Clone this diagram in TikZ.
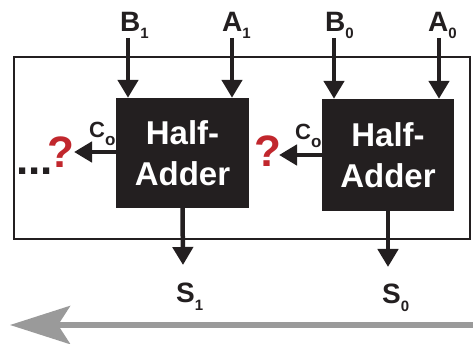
\documentclass[tikz,border=0pt]{standalone}
\usepackage{fontspec}
\setmainfont{Liberation Sans}
\usetikzlibrary{arrows.meta}
\definecolor{ink}{HTML}{231F20}
\definecolor{qred}{HTML}{C1272D}
\definecolor{flow}{HTML}{9A9A9A}
% signal name with a lowered subscript
\newcommand{\sig}[4]{\fontsize{#3}{#3}\selectfont\bfseries #1\raisebox{-#4}{\fontsize{15}{15}\selectfont #2}}
\begin{document}
\begin{tikzpicture}[x=1pt,y=-1pt,
  habox/.style={fill=ink,draw=none,text=white,font=\fontsize{33}{41}\selectfont\bfseries,
    align=center,inner sep=0pt,minimum width=133pt,minimum height=110pt},
  wire/.style={draw=ink,line width=4.5pt,-{Triangle[width=20pt,length=18pt]}},
  lbl/.style={inner sep=0pt,anchor=base west,text=ink},
  qmark/.style={inner sep=0pt,anchor=base west,text=qred,text height=32pt,text depth=0pt,
    font=\fontsize{44}{44}\selectfont\bfseries}]
\useasboundingbox (0,0) rectangle (473,344);
% enclosing frame
\draw[draw=ink,line width=1.2pt] (14,57) rectangle (470,239);
% the two half adders
\node[habox] (ha1) at (182.5,153) {Half-\\Adder};
\node[habox,minimum width=132pt,minimum height=112pt] (ha0) at (388,155) {Half-\\Adder};
% input labels
\node[lbl] (b1) at (120,32) {\sig{B}{1}{28pt}{7pt}};
\node[lbl] (a1) at (222,32) {\sig{A}{1}{28pt}{7pt}};
\node[lbl] (b0) at (325,32) {\sig{B}{0}{28pt}{7pt}};
\node[lbl] (a0) at (428,32) {\sig{A}{0}{28pt}{7pt}};
% input wires
\coordinate (b1t) at (128,38);
\coordinate (a1t) at (232,38);
\coordinate (b0t) at (334,38);
\coordinate (a0t) at (439,38);
\draw[wire] (b1t) -- (b1t |- ha1.north);
\draw[wire] (a1t) -- (a1t |- ha1.north);
\draw[wire] (b0t) -- (b0t |- ha0.north);
\draw[wire] (a0t) -- (a0t |- ha0.north);
% carry outputs
\coordinate (c1e) at (74,152);
\coordinate (c0e) at (279,155);
\draw[wire] (ha1.west |- c1e) -- (c1e);
\draw[wire] (ha0.west) -- (c0e);
\node[lbl] (co1) at (89,138) {\sig{C}{\fontsize{17}{17}\selectfont o}{22pt}{8pt}};
\node[lbl] (co0) at (295,140) {\sig{C}{\fontsize{17}{17}\selectfont o}{22pt}{8pt}};
\node[qmark] (q1) at (47,168) {?};
\node[qmark] (q0) at (254,167) {?};
\node[lbl,text height=7pt,text depth=0pt,font=\fontsize{44}{44}\selectfont\bfseries] (dots) at (16,175) {...};
% sum outputs
\coordinate (s1e) at (183,265);
\coordinate (s0e) at (388,267);
\draw[wire] (ha1.south) -- (s1e);
\draw[wire] (ha0.south) -- (s0e);
\node[lbl] (s1) at (176,302) {\sig{S}{1}{28pt}{8pt}};
\node[lbl] (s0) at (382,303) {\sig{S}{0}{28pt}{8pt}};
% direction of carry propagation
\coordinate (fr) at (473,325);
\coordinate (fl) at (10,325);
\draw[draw=flow,line width=6pt,-{Stealth[length=60pt,width=38pt,inset=12pt]}] (fr) -- (fl);
\end{tikzpicture}
\end{document}
